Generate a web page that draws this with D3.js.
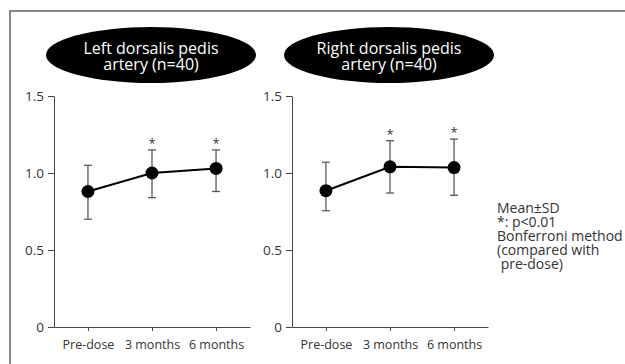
<!DOCTYPE html>
<html>
<head>
<meta charset="utf-8">
<script src="https://cdn.jsdelivr.net/npm/d3@7"></script>
<style>
  body { margin: 0; background: #fff; }
  svg { display: block; font-family: "Open Sans", sans-serif; }
</style>
</head>
<body>
<script>
var categories = ["Pre-dose", "3 months", "6 months"];

var leftMean = [0.88, 1.00, 1.03];
var leftHigh = [1.05, 1.15, 1.15];
var leftLow  = [0.70, 0.84, 0.88];

var rightMean = [0.885, 1.04, 1.035];
var rightHigh = [1.07, 1.21, 1.22];
var rightLow  = [0.755, 0.87, 0.855];

var significant = [false, true, true];

var yTicks = [0, 0.5, 1.0, 1.5];

var leftTitle = ["Left dorsalis pedis", "artery (n=40)"];
var rightTitle = ["Right dorsalis pedis", "artery (n=40)"];

var legendLines = ["Mean\u00b1SD", "*: p<0.01", "Bonferroni method", "(compared with", "\u00a0pre-dose)"];

var width = 625, height = 364;

var svg = d3.select("body").append("svg")
    .attr("width", width)
    .attr("height", height);

// outer frame, cut off on the right and bottom like the source
svg.append("rect")
    .attr("x", 10)
    .attr("y", 11)
    .attr("width", 700)
    .attr("height", 400)
    .attr("fill", "none")
    .attr("stroke", "#858585")
    .attr("stroke-width", 2);

var y = d3.scaleLinear()
    .domain([0, 1.5])
    .range([327, 96]);

var yFormat = function(d) { return d === 0 ? "0" : d3.format(".1f")(d); };

function drawPanel(left, title, mean, high, low) {
  var x = d3.scalePoint()
      .domain(categories)
      .range([left, left + 196])
      .padding(0.53);

  var g = svg.append("g");

  var yAxis = d3.axisLeft(y)
      .tickValues(yTicks)
      .tickFormat(yFormat)
      .tickSize(6)
      .tickSizeOuter(0)
      .tickPadding(4);

  var xAxis = d3.axisBottom(x)
      .tickSize(4)
      .tickSizeOuter(0)
      .tickPadding(9);

  g.append("g")
      .attr("class", "y axis")
      .attr("transform", "translate(" + left + ",0)")
      .call(yAxis)
    .selectAll("text")
      .attr("font-size", "13.5px");

  g.append("g")
      .attr("class", "x axis")
      .attr("transform", "translate(0," + y(0) + ")")
      .call(xAxis)
    .selectAll("text")
      .attr("font-size", "12.5px");

  g.selectAll(".axis path, .axis line")
      .attr("stroke", "#444")
      .attr("stroke-width", 1);

  g.selectAll(".axis text")
      .attr("fill", "#333")
      .attr("font-family", "'Open Sans', sans-serif");

  var data = categories.map(function(c, i) {
    return {cat: c, mean: mean[i], high: high[i], low: low[i], sig: significant[i]};
  });

  // error bars
  var err = g.selectAll(".err")
      .data(data)
    .enter().append("g")
      .attr("class", "err")
      .attr("stroke", "#5a5a5a")
      .attr("stroke-width", 1.3);

  err.append("line")
      .attr("x1", function(d) { return x(d.cat); })
      .attr("x2", function(d) { return x(d.cat); })
      .attr("y1", function(d) { return y(d.low); })
      .attr("y2", function(d) { return y(d.high); });

  err.append("line")
      .attr("x1", function(d) { return x(d.cat) - 4; })
      .attr("x2", function(d) { return x(d.cat) + 4; })
      .attr("y1", function(d) { return y(d.high); })
      .attr("y2", function(d) { return y(d.high); });

  err.append("line")
      .attr("x1", function(d) { return x(d.cat) - 4; })
      .attr("x2", function(d) { return x(d.cat) + 4; })
      .attr("y1", function(d) { return y(d.low); })
      .attr("y2", function(d) { return y(d.low); });

  var line = d3.line()
      .x(function(d) { return x(d.cat); })
      .y(function(d) { return y(d.mean); });

  g.append("path")
      .datum(data)
      .attr("d", line)
      .attr("fill", "none")
      .attr("stroke", "#000")
      .attr("stroke-width", 2);

  g.selectAll(".dot")
      .data(data)
    .enter().append("circle")
      .attr("class", "dot")
      .attr("r", 6.5)
      .attr("cx", function(d) { return x(d.cat); })
      .attr("cy", function(d) { return y(d.mean); })
      .attr("fill", "#000");

  g.selectAll(".star")
      .data(data.filter(function(d) { return d.sig; }))
    .enter().append("text")
      .attr("class", "star")
      .attr("x", function(d) { return x(d.cat); })
      .attr("y", function(d) { return y(d.high) - 2; })
      .attr("text-anchor", "middle")
      .attr("font-size", "13px")
      .attr("fill", "#333")
      .text("*");

  // black oval title
  var cx = x(categories[1]) - 1;
  g.append("ellipse")
      .attr("cx", cx)
      .attr("cy", 55)
      .attr("rx", 105)
      .attr("ry", 28)
      .attr("fill", "#000");

  g.append("text")
      .attr("x", cx)
      .attr("y", 54)
      .attr("text-anchor", "middle")
      .attr("font-size", "16px")
      .attr("fill", "#fff")
    .selectAll("tspan")
      .data(title)
    .enter().append("tspan")
      .attr("x", cx)
      .attr("dy", function(d, i) { return i === 0 ? 0 : 16; })
      .text(function(d) { return d; });
}

drawPanel(54, leftTitle, leftMean, leftHigh, leftLow);
drawPanel(292, rightTitle, rightMean, rightHigh, rightLow);

svg.append("text")
    .attr("x", 497)
    .attr("y", 213)
    .attr("font-size", "14px")
    .attr("fill", "#333")
  .selectAll("tspan")
    .data(legendLines)
  .enter().append("tspan")
    .attr("x", 497)
    .attr("dy", function(d, i) { return i === 0 ? 0 : 14; })
    .text(function(d) { return d; });
</script>
</body>
</html>
